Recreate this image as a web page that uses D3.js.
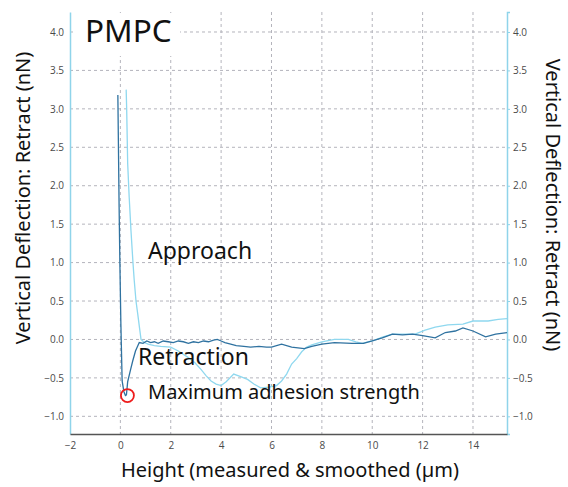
<!DOCTYPE html>
<html>
<head>
<meta charset="utf-8">
<script src="https://cdn.jsdelivr.net/npm/d3@7"></script>
<style>
  html, body { margin: 0; padding: 0; background: #fff; }
  svg text { font-family: 'Noto Sans', 'Open Sans', sans-serif; }
</style>
</head>
<body>
<div class="visual"></div>
<script>
const [width, height] = [568, 487];
const margin = { left: 70, right: 61, top: 12, bottom: 53 };

// retract curve (dark)
const retract_x = [-0.1, -0.08, -0.05, -0.02, 0.02, 0.07, 0.14, 0.2, 0.24, 0.29, 0.4, 0.49, 0.6, 0.75, 0.9, 1.05, 1.2, 1.35, 1.5, 1.7, 1.9, 2.1, 2.3, 2.5, 2.7, 2.9, 3.1, 3.3, 3.5, 3.7, 3.85, 4.0, 4.15, 4.38, 4.6, 4.9, 5.17, 5.5, 5.8, 6.0, 6.4, 6.8, 7.3, 7.6, 8.0, 8.5, 9.2, 9.65, 10.0, 10.4, 10.8, 11.2, 11.6, 12.0, 12.5, 12.9, 13.3, 13.6, 14.0, 14.5, 14.9, 15.35];
const retract_y = [3.18, 2.6, 1.72, 1.0, 0.2, -0.54, -0.68, -0.73, -0.72, -0.55, -0.4, -0.28, -0.15, -0.04, -0.05, -0.02, -0.04, -0.03, -0.05, -0.02, -0.03, -0.04, -0.02, -0.03, -0.05, -0.03, -0.04, -0.02, -0.03, -0.01, 0.0, -0.02, -0.04, -0.06, -0.08, -0.09, -0.1, -0.09, -0.1, -0.1, -0.06, -0.1, -0.12, -0.09, -0.06, -0.04, -0.05, -0.05, -0.02, 0.02, 0.07, 0.06, 0.07, 0.05, 0.02, 0.09, 0.11, 0.15, 0.11, 0.035, 0.07, 0.09];

// approach curve (light)
const approach_x = [0.23, 0.25, 0.29, 0.35, 0.42, 0.5, 0.55, 0.62, 0.69, 0.76, 0.82, 0.95, 1.1, 1.35, 1.6, 2.0, 2.3, 2.67, 2.95, 3.2, 3.4, 3.6, 3.8, 4.0, 4.2, 4.5, 4.75, 5.05, 5.3, 5.57, 5.9, 6.2, 6.4, 6.6, 6.8, 7.0, 7.2, 7.4, 7.6, 8.0, 8.5, 9.05, 9.35, 9.6, 10.0, 10.4, 10.8, 11.2, 11.7, 12.1, 12.5, 13.0, 13.6, 14.0, 14.6, 15.0, 15.35];
const approach_y = [3.25, 3.0, 2.29, 1.85, 1.42, 1.0, 0.77, 0.5, 0.33, 0.15, 0.0, -0.04, -0.06, -0.08, -0.09, -0.1, -0.15, -0.23, -0.3, -0.39, -0.47, -0.54, -0.58, -0.6, -0.55, -0.45, -0.48, -0.52, -0.58, -0.63, -0.62, -0.6, -0.54, -0.45, -0.32, -0.25, -0.16, -0.1, -0.07, -0.03, 0.0, 0.0, -0.03, -0.05, -0.02, 0.03, 0.07, 0.07, 0.07, 0.12, 0.16, 0.19, 0.2, 0.24, 0.24, 0.26, 0.27];

const x_ticks = [-2, 0, 2, 4, 6, 8, 10, 12, 14];
const y_ticks = [-1.0, -0.5, 0.0, 0.5, 1.0, 1.5, 2.0, 2.5, 3.0, 3.5, 4.0];
const min_point = [0.24, -0.73];

const AXIS_TITLE = 'Vertical Deflection: Retract (nN)';
const X_TITLE = 'Height (measured & smoothed (µm)';

const svg = d3.select('.visual').append('svg').attr('width', width).attr('height', height);

const x_scale = d3.scaleLinear().domain([-2, 15.35]).range([margin.left, width - margin.right]);
const y_scale = d3.scaleLinear().domain([-1.23, 4.26]).range([height - margin.bottom, margin.top]);
const [x0, x1] = x_scale.range();
const [y0, y1] = y_scale.range();

// grid
svg.append('g')
  .selectAll('line')
  .data(x_ticks.filter((t) => t > -2))
  .enter()
  .append('line')
  .attr('x1', (d) => x_scale(d)).attr('x2', (d) => x_scale(d))
  .attr('y1', y1).attr('y2', y0)
  .attr('stroke', '#b4b4bc').attr('stroke-dasharray', '3,3');

svg.append('g')
  .selectAll('line')
  .data(y_ticks)
  .enter()
  .append('line')
  .attr('x1', x0).attr('x2', x1)
  .attr('y1', (d) => y_scale(d)).attr('y2', (d) => y_scale(d))
  .attr('stroke', '#b4b4bc').attr('stroke-dasharray', '3,3');

// axes
const fmt = d3.format('.1f');
const left_axis = svg.append('g')
  .attr('transform', `translate(${x0},0)`)
  .call(d3.axisLeft(y_scale).tickValues(y_ticks).tickFormat(fmt).tickSize(0).tickPadding(6));
const right_axis = svg.append('g')
  .attr('transform', `translate(${x1},0)`)
  .call(d3.axisRight(y_scale).tickValues(y_ticks).tickFormat(fmt).tickSize(3).tickPadding(3));
const bottom_axis = svg.append('g')
  .attr('transform', `translate(0,${y0})`)
  .call(d3.axisBottom(x_scale).tickValues(x_ticks).tickSize(0).tickPadding(8));

[left_axis, right_axis].forEach((a) => {
  a.select('.domain').attr('stroke', '#8fd4ea').attr('stroke-width', 1.5);
  a.selectAll('.tick line').attr('stroke', '#8fd4ea');
});
bottom_axis.select('.domain').attr('stroke', '#555').attr('stroke-width', 1.5);
[left_axis, right_axis, bottom_axis].forEach((a) => {
  a.selectAll('.tick text')
    .attr('fill', '#4a4a4a')
    .style('font-size', '10px')
    .style('font-family', "'Open Sans', sans-serif");
});

// curves
const line = d3.line().x((d) => x_scale(d[0])).y((d) => y_scale(d[1]));
svg.append('path')
  .datum(approach_x.map((v, i) => [v, approach_y[i]]))
  .attr('d', line)
  .attr('fill', 'none').attr('stroke', '#8fd8ef').attr('stroke-width', 1.3);
svg.append('path')
  .datum(retract_x.map((v, i) => [v, retract_y[i]]))
  .attr('d', line)
  .attr('fill', 'none').attr('stroke', '#2f72a0').attr('stroke-width', 1.3);

// title box
svg.append('rect')
  .attr('x', 75).attr('y', 13).attr('width', 105).attr('height', 43)
  .attr('fill', '#fff');
svg.append('text')
  .attr('x', 85).attr('y', 42)
  .style('font-size', '31.5px').attr('fill', '#111')
  .text('PMPC');

// annotations
svg.append('circle')
  .attr('cx', x_scale(min_point[0]) + 1).attr('cy', y_scale(min_point[1]))
  .attr('r', 6.5).attr('fill', 'none').attr('stroke', '#ee1c1c').attr('stroke-width', 1.8);

svg.append('text').attr('x', 148).attr('y', 259)
  .style('font-size', '23px').attr('fill', '#111').text('Approach');
svg.append('text').attr('x', 138).attr('y', 365)
  .style('font-size', '23px').attr('fill', '#111').text('Retraction');
svg.append('text').attr('x', 148).attr('y', 399)
  .style('font-size', '20px').attr('fill', '#111').text('Maximum adhesion strength');

// axis titles
svg.append('text')
  .attr('transform', 'translate(30,198) rotate(-90)')
  .attr('text-anchor', 'middle')
  .style('font-size', '20px').attr('fill', '#111')
  .text(AXIS_TITLE);
svg.append('text')
  .attr('transform', 'translate(546,205) rotate(90)')
  .attr('text-anchor', 'middle')
  .style('font-size', '20px').attr('fill', '#111')
  .text(AXIS_TITLE);
svg.append('text')
  .attr('x', 290).attr('y', 477)
  .attr('text-anchor', 'middle')
  .style('font-size', '20px').attr('fill', '#111')
  .text(X_TITLE);
</script>
</body>
</html>
